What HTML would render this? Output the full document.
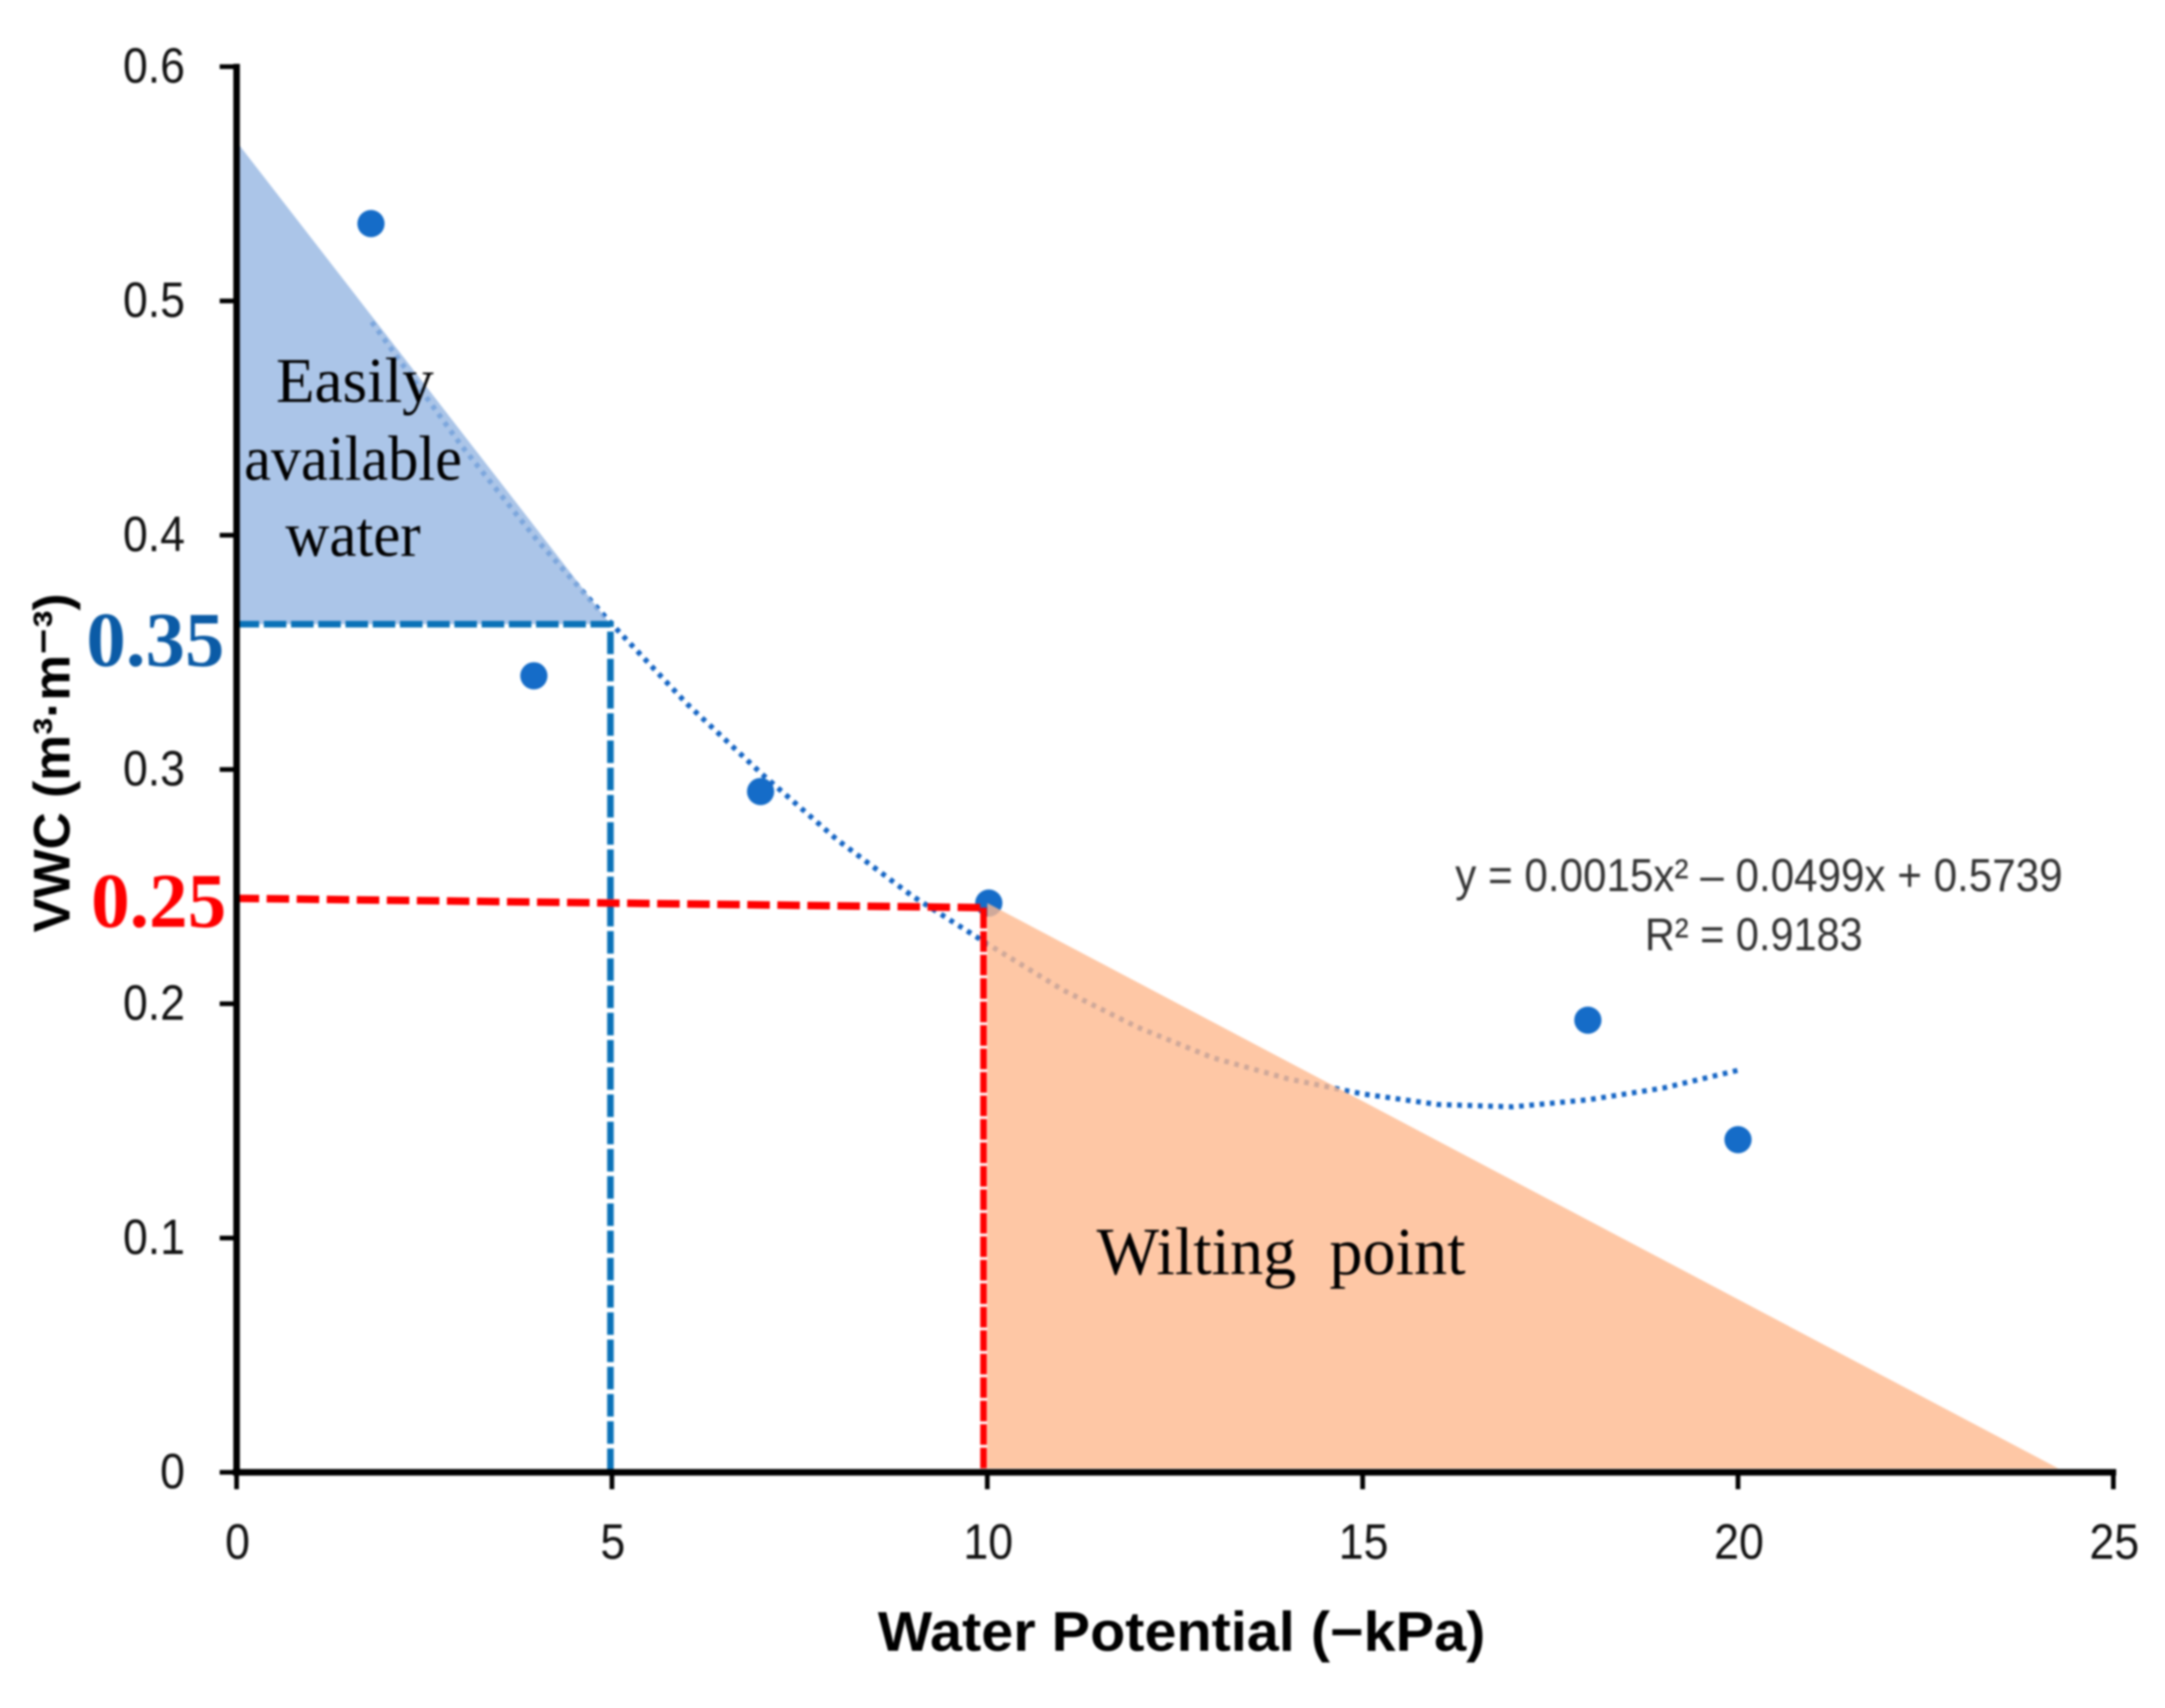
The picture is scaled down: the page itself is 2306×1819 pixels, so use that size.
<!DOCTYPE html>
<html lang="en">
<head>
<meta charset="utf-8">
<title>VWC vs Water Potential</title>
<style>
html,body{margin:0;padding:0;background:#fff;}
body{width:2306px;height:1819px;overflow:hidden;}
svg{display:block;filter:blur(1.1px);}
.tick{font-family:"Liberation Sans",sans-serif;font-size:53px;fill:#111;}
.serif{font-family:"Liberation Serif",serif;fill:#000;}
.num{font-family:"Liberation Serif",serif;font-weight:bold;font-size:83px;}
.title{font-family:"Liberation Sans",sans-serif;font-weight:bold;fill:#000;}
.eq{font-family:"Liberation Sans",sans-serif;font-size:49px;fill:#333;}
</style>
</head>
<body>
<svg id="chart" xmlns="http://www.w3.org/2000/svg" width="2306" height="1819" viewBox="0 0 2306 1819">
  <rect x="0" y="0" width="2306" height="1819" fill="#ffffff"/>
  <g id="marks"></g>
  <g id="areas"></g>
  <g id="guides"></g>
  <g id="axes"></g>

  <text class="title" x="935" y="1758" font-size="59" textLength="647" lengthAdjust="spacingAndGlyphs">Water Potential (−kPa)</text>
  <text class="title" transform="translate(74,993) rotate(-90)" x="0" y="0" font-size="55" textLength="361" lengthAdjust="spacingAndGlyphs">VWC (m³·m⁻³)</text>

  <text class="serif" x="294" y="428" font-size="68" textLength="168" lengthAdjust="spacingAndGlyphs">Easily</text>
  <text class="serif" x="260" y="511" font-size="68" textLength="232" lengthAdjust="spacingAndGlyphs">available</text>
  <text class="serif" x="304" y="592" font-size="68" textLength="144" lengthAdjust="spacingAndGlyphs">water</text>
  <text class="serif" x="1168" y="1357" font-size="72" textLength="393" lengthAdjust="spacingAndGlyphs">Wilting&#160;&#160;point</text>

  <text class="num" x="92" y="709" fill="#0b5ba6" textLength="147" lengthAdjust="spacingAndGlyphs">0.35</text>
  <text class="num" x="97" y="987" fill="#fe0000" textLength="144" lengthAdjust="spacingAndGlyphs">0.25</text>

  <text class="eq" x="1550" y="949" textLength="647" lengthAdjust="spacingAndGlyphs">y = 0.0015x² – 0.0499x + 0.5739</text>
  <text class="eq" x="1752" y="1012" textLength="232" lengthAdjust="spacingAndGlyphs">R² = 0.9183</text>
</svg>
<script>
const pointsX = [1.79, 3.96, 6.98, 10.02, 18, 20];
const pointsY = [0.533, 0.34, 0.2906, 0.243, 0.193, 0.142];
const trendX = [1.8, 3, 4, 5, 6, 7, 8, 9, 10, 11, 12, 13, 14, 15, 16, 17, 18, 19, 20];
const trendY = [0.491, 0.438, 0.398, 0.362, 0.328, 0.298, 0.270, 0.246, 0.2256, 0.206, 0.19, 0.177, 0.168, 0.1615, 0.157, 0.156, 0.159, 0.164, 0.1716];
const xTicks = [0, 5, 10, 15, 20, 25];
const yTicks = [0, 0.1, 0.2, 0.3, 0.4, 0.5, 0.6];
const yTickLabels = ['0', '0.1', '0.2', '0.3', '0.4', '0.5', '0.6'];
const blueAreaX = [0, 4.98, 0];
const blueAreaY = [0.568, 0.362, 0.362];
const orangeAreaX = [10, 24.27, 10];
const orangeAreaY = [0.243, 0.0016, 0.0016];
const blueGuideX = [0, 4.98, 4.98];
const blueGuideY = [0.362, 0.362, 0];
const redGuideX = [0, 10];
const redGuideY = [0.245, 0.241];
const redDropX = [9.95, 9.95];
const redDropY = [0.241, 0];

const NS = 'http://www.w3.org/2000/svg';
function sx(v) { return 252 + v * 79.96; }
function sy(v) { return 1568 - v * 2495; }
function mk(tag, parent, attrs) {
  const el = document.createElementNS(NS, tag);
  for (const k in attrs) el.setAttribute(k, attrs[k]);
  parent.appendChild(el);
  return el;
}
function pts(xs, ys) {
  return xs.map(function (x, i) { return sx(x) + ',' + sy(ys[i]); }).join(' ');
}
const marks = document.getElementById('marks');
const areas = document.getElementById('areas');
const guides = document.getElementById('guides');
const axes = document.getElementById('axes');

pointsX.forEach(function (x, i) {
  const dot = mk('circle', marks, { cx: sx(x), cy: sy(pointsY[i]), r: 14.5, fill: '#156cc8' });
  
  
});

const trend = mk('polyline', marks, { points: pts(trendX, trendY), fill: 'none', stroke: '#1565c4', 'stroke-width': 5.5, 'stroke-dasharray': '5 6' });



const blueArea = mk('polygon', areas, { points: pts(blueAreaX, blueAreaY), fill: 'rgb(150,182,226)', 'fill-opacity': 0.8 });



const orangeArea = mk('polygon', areas, { points: pts(orangeAreaX, orangeAreaY), fill: 'rgb(254,185,143)', 'fill-opacity': 0.8 });



const blueGuide = mk('polyline', guides, { points: pts(blueGuideX, blueGuideY), fill: 'none', stroke: '#0a72b8', 'stroke-width': 7, 'stroke-dasharray': '24 5' });



const redGuide = mk('polyline', guides, { points: pts(redGuideX, redGuideY), fill: 'none', stroke: '#fe0000', 'stroke-width': 8, 'stroke-dasharray': '24 8' });



const redDrop = mk('polyline', guides, { points: pts(redDropX, redDropY), fill: 'none', stroke: '#fe0000', 'stroke-width': 7, 'stroke-dasharray': '22 3' });



const xAxis = mk('line', axes, { x1: sx(0) - 4, y1: sy(0), x2: sx(25) + 3, y2: sy(0), stroke: '#000', 'stroke-width': 7 });



const yAxis = mk('line', axes, { x1: sx(0), y1: sy(0.6) - 3, x2: sx(0), y2: sy(0) + 3, stroke: '#000', 'stroke-width': 7 });



xTicks.forEach(function (t) {
  const tick = mk('line', axes, { x1: sx(t), y1: sy(0), x2: sx(t), y2: sy(0) + 18, stroke: '#000', 'stroke-width': 5 });
  
  
  const label = mk('text', axes, { x: sx(t) + 1, y: 1660, class: 'tick', 'text-anchor': 'middle', textLength: String(t).length * 26.5, lengthAdjust: 'spacingAndGlyphs' });
  label.textContent = String(t);
  
  
});

yTicks.forEach(function (t, i) {
  const tick = mk('line', axes, { x1: sx(0) - 18, y1: sy(t), x2: sx(0), y2: sy(t), stroke: '#000', 'stroke-width': 5 });
  
  
  const text = yTickLabels[i];
  const label = mk('text', axes, { x: 197, y: sy(t) + 17, class: 'tick', 'text-anchor': 'end', textLength: text.length > 1 ? 66 : 26.5, lengthAdjust: 'spacingAndGlyphs' });
  label.textContent = text;
  
  
});
</script>
</body>
</html>
